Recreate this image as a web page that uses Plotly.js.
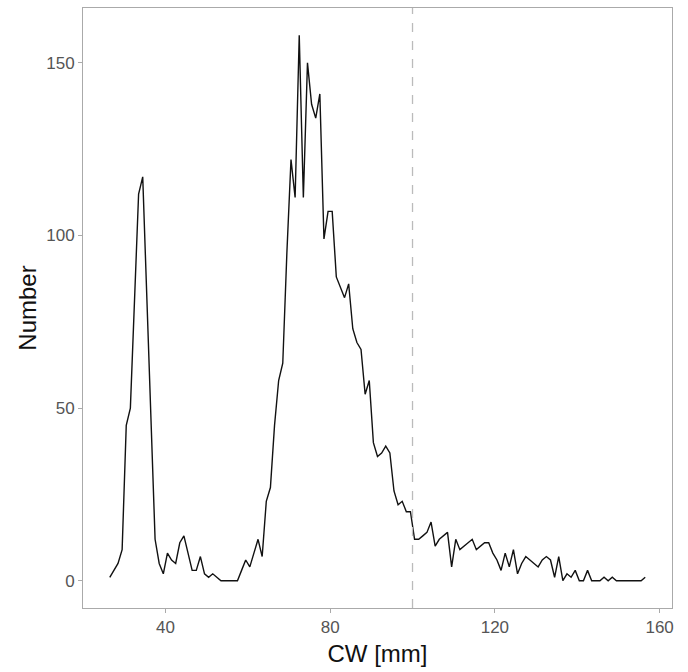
<!DOCTYPE html>
<html>
<head>
<meta charset="utf-8">
<script src="https://cdn.plot.ly/plotly-3.0.1.min.js"></script>
<style>html,body{margin:0;padding:0;background:#fff;}#chart{width:688px;height:672px;}</style>
</head>
<body>
<div id="chart"></div>
<script>
const cw = [26.5,27.5,28.5,29.5,30.5,31.5,32.5,33.5,34.5,35.5,36.5,37.5,38.5,39.5,40.5,41.5,42.5,43.5,44.5,45.5,
46.5,47.5,48.5,49.5,50.5,51.5,52.5,53.5,54.5,55.5,56.5,57.5,58.5,59.5,60.5,61.5,62.5,63.5,64.5,65.5,
66.5,67.5,68.5,69.5,70.5,71.5,72.5,73.5,74.5,75.5,76.5,77.5,78.5,79.5,80.5,81.5,82.5,83.5,84.5,85.5,
86.5,87.5,88.5,89.5,90.5,91.5,92.5,93.5,94.5,95.5,96.5,97.5,98.5,99.5,100.5,101.5,102.5,103.5,104.5,105.5,
106.5,107.5,108.5,109.5,110.5,111.5,112.5,113.5,114.5,115.5,116.5,117.5,118.5,119.5,120.5,121.5,122.5,123.5,124.5,125.5,
126.5,127.5,128.5,129.5,130.5,131.5,132.5,133.5,134.5,135.5,136.5,137.5,138.5,139.5,140.5,141.5,142.5,143.5,144.5,145.5,
146.5,147.5,148.5,149.5,150.5,151.5,152.5,153.5,154.5,155.5,156.5];
const number = [1,3,5,9,45,50,81,112,117,82,47,12,5,2,8,6,5,11,13,8,
3,3,7,2,1,2,1,0,0,0,0,0,3,6,4,8,12,7,23,27,
45,58,63,95,122,111,158,111,150,138,134,141,99,107,107,88,85,82,86,73,
69,67,54,58,40,36,37,39,37,26,22,23,20,20,12,12,13,14,17,10,
12,13,14,4,12,9,10,11,12,9,10,11,11,8,6,3,8,4,9,2,
5,7,6,5,4,6,7,6,1,7,0,2,1,3,0,0,3,0,0,0,
1,0,1,0,0,0,0,0,0,0,1];
const cutoff = [100];
const xTicks = [40, 80, 120, 160];
const yTicks = [0, 50, 100, 150];

const axisCommon = {
  showgrid: false, zeroline: false,
  showline: true, mirror: true, linecolor: '#aaaaaa', linewidth: 1,
  ticks: 'outside', ticklen: 4, tickcolor: '#aaaaaa', tickwidth: 1,
  tickfont: {family: 'Liberation Sans, Arial, sans-serif', size: 17, color: '#555555'}
};

Plotly.newPlot('chart', [{
  x: cw, y: number, type: 'scatter', mode: 'lines',
  line: {color: '#111111', width: 1.4}, hoverinfo: 'skip'
}], {
  width: 688, height: 672,
  margin: {l: 83, r: 16, t: 8, b: 64},
  paper_bgcolor: '#ffffff', plot_bgcolor: '#ffffff',
  showlegend: false,
  xaxis: Object.assign({}, axisCommon, {
    range: [20, 163], tickvals: xTicks, ticktext: xTicks.map(String),
    title: {text: 'CW [mm]', standoff: 8, font: {family: 'Liberation Sans, Arial, sans-serif', size: 24, color: '#111111'}}
  }),
  yaxis: Object.assign({}, axisCommon, {
    range: [-7.9, 165.9], tickvals: yTicks, ticktext: yTicks.map(String),
    title: {text: 'Number', standoff: 2, font: {family: 'Liberation Sans, Arial, sans-serif', size: 24, color: '#111111'}}
  }),
  shapes: cutoff.map(v => ({
    type: 'line', xref: 'x', yref: 'paper', x0: v, x1: v, y0: 0, y1: 1,
    line: {color: '#bbbbbb', width: 1.3, dash: 'dash'}
  }))
}, {staticPlot: true, displayModeBar: false});
</script>
</body>
</html>
